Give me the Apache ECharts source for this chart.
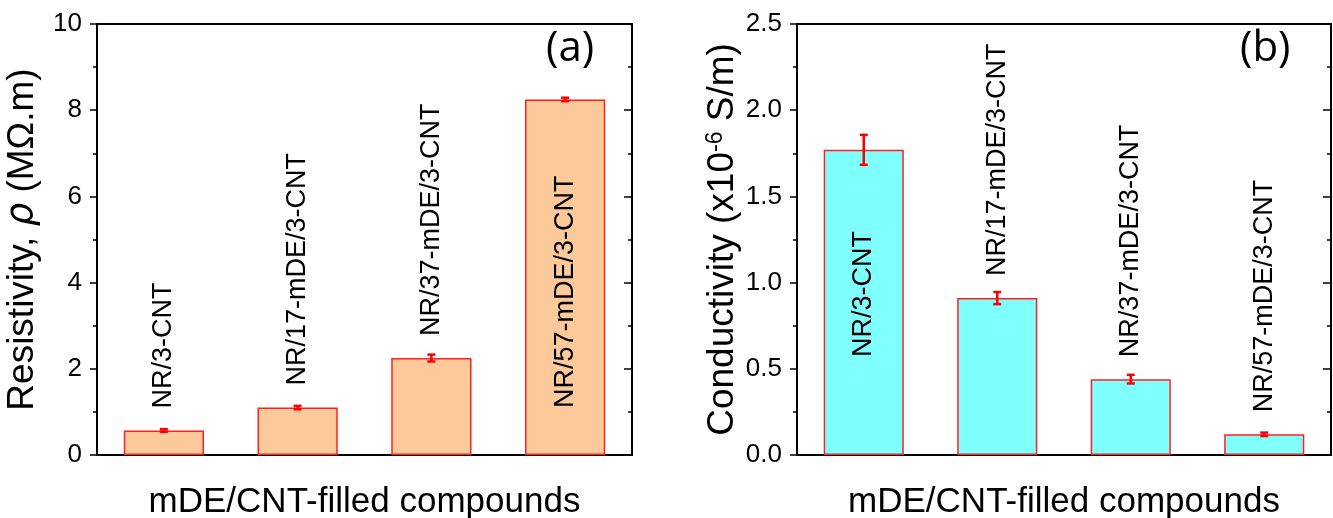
<!DOCTYPE html>
<html>
<head>
<meta charset="utf-8">
<script src="https://cdn.jsdelivr.net/npm/echarts@6/dist/echarts.min.js"></script>
<style>
html,body{margin:0;padding:0;background:#fff;}
#c{width:1333px;height:518px;}
</style>
</head>
<body>
<div id="c"></div>
<script>
const categories = ['NR/3-CNT', 'NR/17-mDE/3-CNT', 'NR/37-mDE/3-CNT', 'NR/57-mDE/3-CNT'];
const resistivity = [0.57, 1.10, 2.25, 8.25];
const resistivityErr = [0.03, 0.04, 0.08, 0.04];
const conductivity = [1.77, 0.91, 0.44, 0.12];
const conductivityErr = [0.087, 0.035, 0.025, 0.01];
const resTicks = [0, 2, 4, 6, 8, 10];
const condTicks = [0, 0.5, 1.0, 1.5, 2.0, 2.5];

const FONT = 'Liberation Sans, Arial, sans-serif';
const chart = echarts.init(document.getElementById('c'));

function barData(vals, insideIdx, insideDist) {
  return vals.map((v, i) => ({
    value: v,
    label: {
      show: true,
      formatter: categories[i],
      position: i === insideIdx ? 'insideBottom' : 'top',
      distance: i === insideIdx ? insideDist : 22,
      rotate: 90,
      align: 'left',
      verticalAlign: 'middle',
      fontSize: 27,
      fontFamily: FONT,
      color: '#000'
    }
  }));
}
function errData(vals, errs) {
  return vals.map((v, i) => [i, v - errs[i], v + errs[i]]);
}
function errRender(params, api) {
  const lo = api.coord([api.value(0), api.value(1)]);
  const hi = api.coord([api.value(0), api.value(2)]);
  const cx = lo[0];
  const w = 4;
  const st = {stroke: '#ff0000', lineWidth: 2.5};
  return {type: 'group', children: [
    {type: 'line', shape: {x1: cx, y1: lo[1], x2: cx, y2: hi[1]}, style: st},
    {type: 'line', shape: {x1: cx - w, y1: lo[1], x2: cx + w, y2: lo[1]}, style: st},
    {type: 'line', shape: {x1: cx - w, y1: hi[1], x2: cx + w, y2: hi[1]}, style: st}
  ]};
}

function yMain(gridIndex, ticks, name, nameRich, decimals) {
  return {
    type: 'value', gridIndex: gridIndex, position: 'left',
    min: ticks[0], max: ticks[ticks.length - 1], interval: ticks[1] - ticks[0],
    name: name, nameLocation: 'middle', nameGap: 56,
    nameTextStyle: {fontSize: 37, fontFamily: FONT, color: '#000', rich: nameRich},
    axisLine: {show: true, lineStyle: {color: '#000', width: 2}},
    axisTick: {show: true, length: 7, lineStyle: {color: '#000', width: 1.5}},
    minorTick: {show: true, splitNumber: 2, length: 4, lineStyle: {color: '#000', width: 1.5}},
    splitLine: {show: false},
    axisLabel: {fontSize: 26, fontFamily: FONT, color: '#000', margin: 15,
      formatter: v => v.toFixed(decimals)}
  };
}
function yRight(gridIndex, ticks) {
  return {
    type: 'value', gridIndex: gridIndex, position: 'right',
    min: ticks[0], max: ticks[ticks.length - 1], interval: ticks[1] - ticks[0],
    axisLine: {show: true, lineStyle: {color: '#000', width: 2}},
    axisTick: {show: true, inside: true, length: 8, lineStyle: {color: '#000', width: 1.5}},
    minorTick: {show: true, splitNumber: 2, length: 4, lineStyle: {color: '#000', width: 1.5}},
    splitLine: {show: false},
    axisLabel: {show: false}
  };
}
function xMain(gridIndex) {
  return {
    type: 'category', gridIndex: gridIndex, data: categories, position: 'bottom',
    name: 'mDE/CNT-filled compounds', nameLocation: 'middle', nameGap: 30,
    nameTextStyle: {fontSize: 35, fontFamily: FONT, color: '#000'},
    axisLine: {show: true, onZero: false, lineStyle: {color: '#000', width: 2}},
    axisTick: {show: false},
    axisLabel: {show: false},
    splitLine: {show: false}
  };
}
function xTop(gridIndex) {
  return {
    type: 'category', gridIndex: gridIndex, data: categories, position: 'top',
    axisLine: {show: true, onZero: false, lineStyle: {color: '#000', width: 2}},
    axisTick: {show: false}, axisLabel: {show: false}, splitLine: {show: false}
  };
}

const option = {
  animation: false,
  backgroundColor: '#fff',
  grid: [
    {left: 97, right: 701, top: 24, bottom: 63, containLabel: false, outerBoundsMode: 'none'},
    {left: 797, right: 2, top: 24, bottom: 63, containLabel: false, outerBoundsMode: 'none'}
  ],
  xAxis: [xMain(0), xTop(0), xMain(1), xTop(1)],
  yAxis: [
    yMain(0, resTicks, 'Resistivity, {it|ρ} (MΩ.m)', {it: {fontSize: 37, fontStyle: 'italic', fontFamily: 'DejaVu Sans, sans-serif', color: '#000'}}, 0),
    yRight(0, resTicks),
    yMain(1, condTicks, 'Conductivity (x10{sup|-6} S/m)', {sup: {fontSize: 23, fontFamily: FONT, color: '#000', verticalAlign: 'top', padding: [0, 0, 14, 0]}}, 1),
    yRight(1, condTicks)
  ],
  series: [
    {type: 'bar', xAxisIndex: 0, yAxisIndex: 0, barWidth: '60%',
      itemStyle: {color: '#FCCA9A', borderColor: '#ff2020', borderWidth: 1.5},
      data: barData(resistivity, 3, 47), z: 2},
    {type: 'custom', xAxisIndex: 0, yAxisIndex: 0, renderItem: errRender,
      data: errData(resistivity, resistivityErr), z: 3},
    {type: 'bar', xAxisIndex: 2, yAxisIndex: 2, barWidth: '60%',
      itemStyle: {color: '#80FFFF', borderColor: '#ff2020', borderWidth: 1.5},
      data: barData(conductivity, 0, 98), z: 2},
    {type: 'custom', xAxisIndex: 2, yAxisIndex: 2, renderItem: errRender,
      data: errData(conductivity, conductivityErr), z: 3}
  ],
  graphic: [
    {type: 'text', left: 546, top: 28, style: {text: '(a)', fontSize: 42, fontFamily: 'Open Sans, sans-serif', fill: '#000'}},
    {type: 'text', left: 1240, top: 28, style: {text: '(b)', fontSize: 42, fontFamily: 'Open Sans, sans-serif', fill: '#000'}}
  ]
};
chart.setOption(option);
</script>
</body>
</html>
